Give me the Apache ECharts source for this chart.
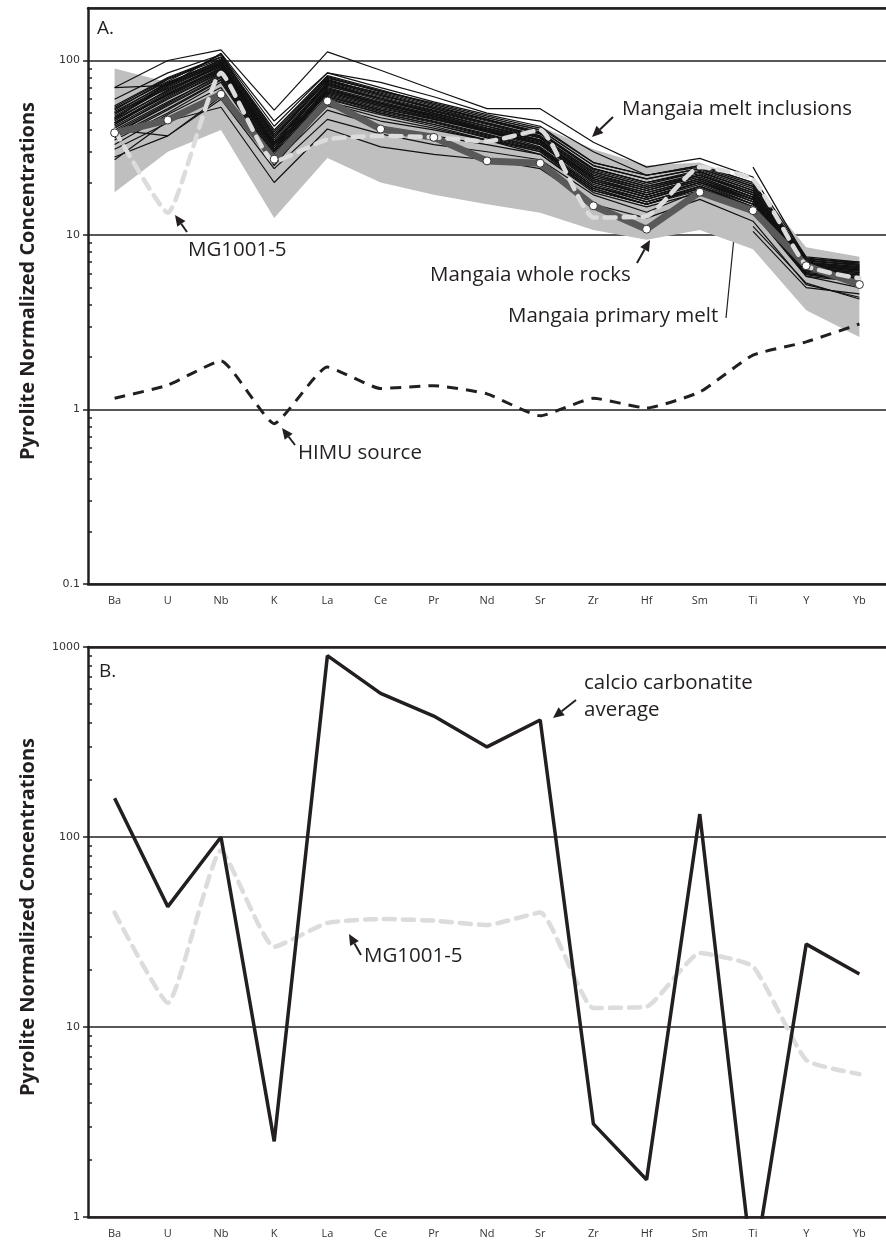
<!DOCTYPE html>
<html>
<head>
<meta charset="utf-8">
<script src="https://cdn.jsdelivr.net/npm/echarts@6.0.0/dist/echarts.min.js"></script>
<style>
html, body { margin: 0; padding: 0; background: #fff; }
#chart { width: 886px; height: 1241px; }
</style>
</head>
<body>
<div id="chart"></div>
<script>
var elements = ['Ba', 'U', 'Nb', 'K', 'La', 'Ce', 'Pr', 'Nd', 'Sr', 'Zr', 'Hf', 'Sm', 'Ti', 'Y', 'Yb'];

// panel A
var wholeRockLow  = [17.6, 30, 40, 12.5, 27.6, 20, 17, 15, 13.4, 10.7, 9.4, 10.7, 8.3, 3.7, 2.6];
var wholeRockHigh = [90, 75, 100, 40, 75, 60, 50, 45, 42, 31, 25, 26, 20, 8.5, 7.5];
var primaryMelt   = [38.5, 45.6, 64, 27.2, 58.6, 40.5, 36.3, 26.6, 25.8, 14.7, 10.8, 17.6, 13.8, 6.67, 5.2];
var himuSource    = [1.16, 1.38, 1.9, 0.83, 1.75, 1.32, 1.37, 1.23, 0.92, 1.16, 1.02, 1.26, 2.05, 2.44, 3.09];
var mg1001        = [40, 13.4, 85, 26.4, 35.3, 37, 36.3, 34.4, 40, 12.6, 12.8, 24.5, 20.8, 6.7, 5.65];

var meltInclusions = [
    [70, 100, 115, 52, 112, 88, 68, 53, 53, 34, 24.5, 27.5, 21.5, 7.5, 7.0],
    [70, 72, 110, 45, 85, 75, 62, 50, 45, 30, 22, 25, 20, 7.4, 6.8],
    [27, 45, 54, 20, 40.5, 32, 29, 27, 24, 15, 12.5, 16, 12, 5.2, 4.4],
    [28, 37, 60, 24, 46, 38, 33, 30, 27, 17, 13.5, 18, 14, 5.8, 5.0],
    [31, 44, 65, 26, 52, 42, 37, 33, 29, 18, 15, 19, 15, 6.0, 5.3],
    [40, 37, 62, 27, 55, 45, 40, 35, 31, 19, 16, 20, 16, 6.3, 5.6],
    [55, 80, 105, 40, 82, 68, 56, 47, 40, 25, 21, 24, 19, 7.2, 6.7],
    [52, 78, 102, 38, 80, 66, 55, 46, 39, 24, 20, 23.5, 18.5, 7.0, 6.6],
    [50, 75, 100, 36, 78, 64, 53, 45, 38, 23.5, 19.5, 23, 18, 6.9, 6.5],
    [48, 72, 98, 35, 75, 62, 52, 44, 37, 23, 19, 22.5, 17.5, 6.8, 6.4],
    [47, 70, 96, 34, 74, 60, 51, 43, 36, 22, 18.5, 22, 17, 6.7, 6.3],
    [45, 68, 95, 33, 72, 59, 50, 42, 35, 21.5, 18, 21.5, 16.5, 6.6, 6.2],
    [44, 66, 93, 32, 70, 58, 49, 41, 34.5, 21, 17.5, 21, 16, 6.5, 6.1],
    [43, 64, 90, 31, 68, 57, 48, 40, 34, 20.5, 17, 20.5, 15.5, 6.4, 6.0],
    [42, 62, 88, 30, 66, 55, 47, 39.5, 33, 20, 16.5, 20, 15, 6.3, 5.9],
    [41, 60, 85, 29, 65, 54, 46, 39, 32, 19.5, 16, 19.5, 15, 6.2, 5.8],
    [40, 58, 82, 29, 63, 52, 45, 38, 31.5, 19, 15.5, 19, 14.5, 6.1, 5.7],
    [38, 55, 80, 28, 62, 51, 44, 37, 31, 18.5, 15, 18.5, 14, 6.0, 5.6],
    [36, 52, 77, 27, 60, 50, 43, 36, 30, 18, 15, 18, 14, 5.9, 5.5],
    [35, 50, 75, 27, 58, 49, 42, 35, 29, 17.5, 14.5, 17.5, 13.5, 5.8, 5.4],
    [53, 76, 108, 37, 79, 67, 57, 48, 41, 26, 22, 24.5, 19.5, 7.1, 6.8],
    [46, 74, 99, 31, 76, 63, 54, 46, 38, 24, 20, 23, 18, 6.9, 6.6],
    [50, 69, 92, 34, 71, 61, 50, 42, 36, 22, 18, 22, 17.5, 6.8, 6.3],
    [44, 63, 87, 30, 67, 56, 49, 41, 35, 21, 17, 21, 16.5, 6.5, 6.1],
    [39, 57, 84, 33, 64, 53, 46, 40, 33, 20, 16.5, 20, 15.5, 6.3, 5.9],
    [33, 49, 70, 25, 57, 47, 41, 35, 30, 18, 15, 18.5, 14.5, 6.0, 5.5],
    [60, 85, 108, 42, 85, 70, 58, 49, 42, 26, 22, 25, 20, 7.3, 6.9],
    [49, 73, 97, 36, 77, 63, 53, 44, 37, 23, 19, 22, 17, 6.8, 6.4],
    [46, 67, 94, 33, 73, 60, 50, 42, 35, 21.5, 18, 21.5, 16.5, 6.6, 6.2],
    [43, 65, 91, 32, 69, 57, 48, 40.5, 34, 21, 17.5, 21, 16, 6.5, 6.1],
    [41, 61, 86, 30, 66, 55, 46.5, 39, 33, 20, 16.5, 20, 15.5, 6.3, 5.9],
    [38, 56, 81, 29, 62, 52, 44.5, 37.5, 31.5, 19, 15.5, 19, 14.5, 6.1, 5.7],
    [54, 79, 104, 39, 81, 67, 56, 47, 40, 25, 21, 24, 19, 7.1, 6.7],
    [51, 74, 101, 37, 77, 65, 54, 45.5, 38.5, 24, 20, 23, 18, 6.9, 6.5],
    [47, 71, 97, 34, 74, 61, 51.5, 43.5, 36.5, 22.5, 18.5, 22, 17, 6.7, 6.3],
    [44, 64, 89, 31, 68, 56, 47.5, 40, 33.5, 20.5, 17, 20.5, 16, 6.4, 6.0],
    [37, 53, 78, 28, 61, 50, 43, 36.5, 30.5, 18.5, 15, 18.5, 14, 6.0, 5.5],
    [null, null, null, null, null, null, null, null, null, null, null, null, 11.2, 5.3, 4.3],
    [null, null, null, null, null, null, null, null, null, null, null, null, 10.5, 5.0, 4.6],
    [null, null, null, null, null, null, null, null, null, null, null, null, 24.5, 7.3, 7.0]
];

// panel B
var carbonatite = [160, 43, 100, 2.5, 900, 570, 433, 298, 413, 3.09, 1.57, 132, 0.5, 27.3, 19];

// tick marks
var minorTicksA = [0.2, 0.3, 0.4, 0.5, 0.6, 0.7, 0.8, 0.9, 2, 3, 4, 5, 6, 7, 8, 9, 20, 30, 40, 50, 60, 70, 80, 90];
var minorTicksB = [2, 3, 4, 5, 6, 7, 8, 9, 20, 30, 40, 50, 60, 70, 80, 90, 200, 300, 400, 500, 600, 700, 800, 900];

var ink = '#231f20';
var labelFont = '"Open Sans", sans-serif';

function bottomAxis(g) {
    return {
        type: 'category', gridIndex: g, data: elements, boundaryGap: true,
        axisLine: { lineStyle: { color: ink, width: 2.5 } },
        axisTick: { length: 5, lineStyle: { color: ink, width: 2 } },
        axisLabel: { color: '#333', fontFamily: labelFont, fontSize: 11, margin: 11 },
        splitLine: { show: false }
    };
}
function topAxis(g) {
    return {
        type: 'category', gridIndex: g, data: elements, position: 'top',
        axisLine: { lineStyle: { color: ink, width: 2.5 } },
        axisTick: { show: false }, axisLabel: { show: false }, splitLine: { show: false }
    };
}
function logAxis(g, min, max, showMax) {
    return {
        type: 'log', gridIndex: g, logBase: 10, min: min, max: max, position: 'left',
        name: 'Pyrolite Normalized Concentrations', nameLocation: 'middle', nameGap: 50,
        nameTextStyle: { fontFamily: labelFont, fontWeight: 'bold', fontSize: 20, color: ink, padding: [0, 0, 0, 30] },
        axisLine: { show: true, lineStyle: { color: ink, width: 2.5 } },
        axisTick: { show: true, length: 5, lineStyle: { color: ink, width: 1.5 } },
        axisLabel: {
            color: '#333', fontFamily: '"DejaVu Sans", sans-serif', fontSize: 11, margin: 8, showMaxLabel: showMax,
            formatter: function (v) { return String(v); }
        },
        splitLine: { show: true, lineStyle: { color: ink, width: 1.5 } }
    };
}
function minorAxis(g, min, max, ticks) {
    return {
        type: 'log', gridIndex: g, logBase: 10, min: min, max: max, show: true, position: 'left',
        axisLine: { show: false },
        axisTick: { show: true, inside: true, length: 4, customValues: ticks, lineStyle: { color: ink, width: 1.5 } },
        axisLabel: { show: false }, splitLine: { show: false }
    };
}

function arrow(x1, y1, x2, y2, lw) {
    var dx = x2 - x1, dy = y2 - y1;
    var len = Math.sqrt(dx * dx + dy * dy);
    var ux = dx / len, uy = dy / len;
    var hl = 11, hw = 5;
    var bx = x2 - ux * hl, by = y2 - uy * hl;
    return [
        { type: 'line', shape: { x1: x1, y1: y1, x2: bx, y2: by }, style: { stroke: ink, lineWidth: lw } },
        { type: 'polygon', shape: { points: [[x2, y2], [bx - uy * hw, by + ux * hw], [bx + uy * hw, by - ux * hw]] }, style: { fill: ink } }
    ];
}
function label(text, x, y, size) {
    return {
        type: 'text', x: x, y: y,
        style: { text: text, fill: ink, font: (size || 20.5) + 'px "Open Sans", sans-serif', verticalAlign: 'middle', lineHeight: 27 }
    };
}

var series = [];
var bandDiff = wholeRockHigh.map(function (v, i) { return v - wholeRockLow[i]; });
series.push({
    type: 'line', xAxisIndex: 0, yAxisIndex: 0, stack: 'band', data: wholeRockLow,
    symbol: 'none', lineStyle: { width: 0, opacity: 0 }, silent: true
});
series.push({
    type: 'line', xAxisIndex: 0, yAxisIndex: 0, stack: 'band', data: bandDiff,
    symbol: 'none', lineStyle: { width: 0, opacity: 0 }, areaStyle: { color: '#bfbfbf', opacity: 1 }, silent: true
});
meltInclusions.forEach(function (row) {
    series.push({
        type: 'line', xAxisIndex: 0, yAxisIndex: 0, data: row, symbol: 'none',
        lineStyle: { color: '#111', width: 1.2 }, silent: true
    });
});
series.push({
    type: 'line', xAxisIndex: 0, yAxisIndex: 0, data: primaryMelt,
    symbol: 'circle', symbolSize: 8, showAllSymbol: true,
    lineStyle: { color: '#595959', width: 7 },
    itemStyle: { color: '#fff', borderColor: '#333', borderWidth: 1 }
});
series.push({
    type: 'line', xAxisIndex: 0, yAxisIndex: 0, data: mg1001, symbol: 'none', smooth: 0.15,
    lineStyle: { color: '#dcdcdc', width: 4.5, type: [11, 8], cap: 'round' }
});
series.push({
    type: 'line', xAxisIndex: 0, yAxisIndex: 0, data: himuSource, symbol: 'none', smooth: 0.15,
    lineStyle: { color: ink, width: 3, type: [11, 8] }
});
series.push({
    type: 'line', xAxisIndex: 2, yAxisIndex: 2, data: mg1001, symbol: 'none', smooth: 0.15,
    lineStyle: { color: '#dcdcdc', width: 4.5, type: [11, 8], cap: 'round' }
});
series.push({
    type: 'line', xAxisIndex: 2, yAxisIndex: 2, data: carbonatite, symbol: 'none',
    lineStyle: { color: ink, width: 3.5 }
});

var graphics = [].concat(
    [label('A.', 97, 29, 19), label('B.', 99, 672, 19)],
    [label('Mangaia melt inclusions', 622, 109)],
    arrow(613, 117, 592, 137, 2),
    [label('MG1001-5', 188, 250)],
    arrow(187, 232, 175, 215, 2),
    [label('Mangaia whole rocks', 430, 275)],
    arrow(637, 263, 650, 240, 2),
    [label('Mangaia primary melt', 508, 316)],
    arrow(726, 318, 737, 207, 1.2),
    [label('HIMU source', 298, 453)],
    arrow(295, 445, 282, 428, 2),
    [label('calcio carbonatite\naverage', 584, 697)],
    arrow(576, 700, 553, 718, 2),
    [label('MG1001-5', 364, 956)],
    arrow(361, 955, 349, 934, 2)
);

var chart = echarts.init(document.getElementById('chart'));
chart.setOption({
    animation: false,
    backgroundColor: '#fff',
    grid: [
        { left: 88, top: 8, width: 805, height: 576 },
        { left: 88, top: 647, width: 805, height: 570 }
    ],
    xAxis: [bottomAxis(0), topAxis(0), bottomAxis(1), topAxis(1)],
    yAxis: [logAxis(0, 0.1, 200, false), minorAxis(0, 0.1, 200, minorTicksA), logAxis(1, 1, 1000, true), minorAxis(1, 1, 1000, minorTicksB)],
    series: series,
    graphic: graphics
});
</script>
</body>
</html>
